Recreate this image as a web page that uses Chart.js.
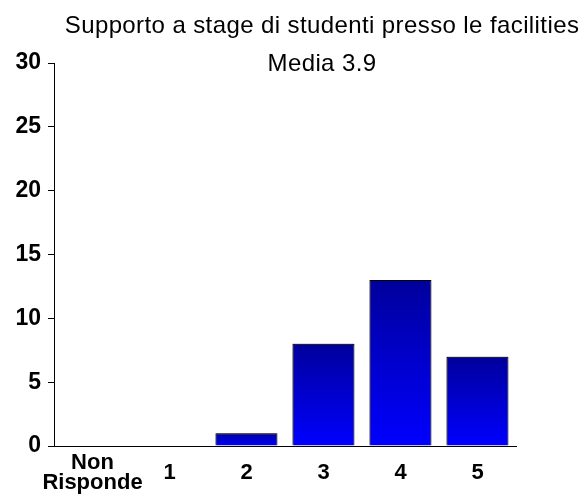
<!DOCTYPE html>
<html>
<head>
<meta charset="utf-8">
<script src="https://cdn.jsdelivr.net/npm/chart.js@4"></script>
<style>
  html, body { margin: 0; padding: 0; background: #fff; }
  #wrap { width: 586px; height: 497px; }
</style>
</head>
<body>
<div id="wrap"><canvas id="chart" width="586" height="497"></canvas></div>
<script>
const categories = [['Non', 'Risponde'], '1', '2', '3', '4', '5'];
const counts = [0, 0, 1, 8, 13, 7];
const titleLines = ['Supporto a stage di studenti presso le facilities', 'Media 3.9'];
const yTicks = { min: 0, max: 30, step: 5 };

const FONT = 'Arial, "Liberation Sans", sans-serif';

// each bar gets its own dark-to-bright gradient
function barGradient(context) {
    const chart = context.chart;
    if (!chart.chartArea || context.raw === undefined) return '#0000e0';
    const yScale = chart.scales.y;
    const top = yScale.getPixelForValue(context.raw);
    const bottom = yScale.getPixelForValue(0);
    const g = chart.ctx.createLinearGradient(0, top, 0, Math.max(bottom, top + 1));
    g.addColorStop(0, '#00009c');
    g.addColorStop(1, '#0000ff');
    return g;
}

const barShadow = {
    id: 'barShadow',
    beforeDatasetDraw(chart) {
        const ctx = chart.ctx;
        ctx.save();
        ctx.shadowColor = 'rgba(0,0,0,0.35)';
        ctx.shadowOffsetX = -1;
        ctx.shadowOffsetY = -1;
        ctx.shadowBlur = 0;
    },
    afterDatasetDraw(chart) {
        chart.ctx.restore();
    }
};

// title sits off-centre in the original, so draw it by hand
const titleText = {
    id: 'titleText',
    afterDraw(chart) {
        const ctx = chart.ctx;
        ctx.save();
        ctx.font = '24px ' + FONT;
        ctx.fillStyle = '#000';
        ctx.textAlign = 'center';
        ctx.textBaseline = 'alphabetic';
        if ('letterSpacing' in ctx) ctx.letterSpacing = '0.4px';
        ctx.fillText(titleLines[0], 322, 33);
        ctx.fillText(titleLines[1], 322, 71);
        ctx.restore();
    }
};

new Chart(document.getElementById('chart'), {
    type: 'bar',
    data: {
        labels: categories,
        datasets: [{
            data: counts,
            backgroundColor: barGradient,
            borderColor: '#000',
            borderWidth: 1,
            borderSkipped: 'bottom',
            categoryPercentage: 0.805,
            barPercentage: 1
        }]
    },
    options: {
        responsive: false,
        animation: false,
        layout: { padding: { top: 63, right: 70 } },
        plugins: {
            legend: { display: false },
            tooltip: { enabled: false },
            title: { display: false }
        },
        scales: {
            x: {
                grid: { display: false, drawTicks: false },
                border: { color: '#000', width: 1 },
                ticks: {
                    color: '#000',
                    padding: 17,
                    autoSkip: false,
                    maxRotation: 0,
                    crossAlign: 'center',
                    font: { family: FONT, size: 22, weight: 'bold', lineHeight: 0.92 }
                },
                afterFit(scale) { scale.height = 51; }
            },
            y: {
                min: yTicks.min,
                max: yTicks.max,
                grid: { drawOnChartArea: false, drawTicks: true, tickLength: 6, color: '#000' },
                border: { color: '#000', width: 1 },
                ticks: {
                    stepSize: yTicks.step,
                    color: '#000',
                    padding: 7,
                    font: { family: FONT, size: 23, weight: 'bold' }
                },
                afterFit(scale) { scale.width = 54; }
            }
        }
    },
    plugins: [barShadow, titleText]
});
</script>
</body>
</html>
